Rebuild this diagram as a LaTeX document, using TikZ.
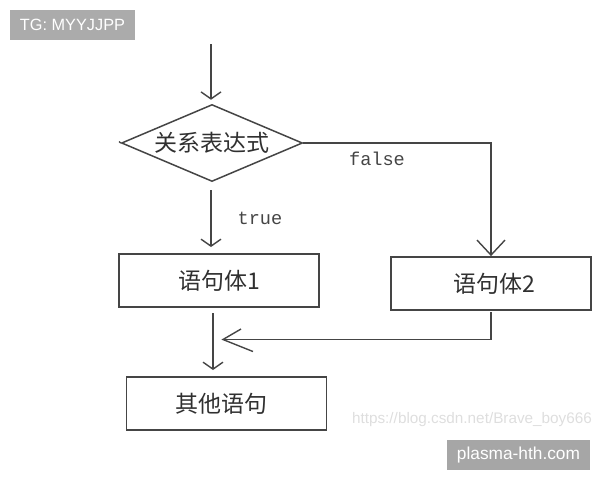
\documentclass[tikz,border=0pt]{standalone}
\usepackage{fontspec}
\setmainfont{Liberation Sans}
\newfontfamily\cjk{Noto Sans CJK SC}
\newfontfamily\monof{Liberation Mono}
\usetikzlibrary{shapes.geometric,arrows.meta}
\definecolor{ink}{HTML}{454545}
\tikzset{
  flowbox/.style={draw=ink,line width=1.8pt,minimum width=200pt,minimum height=53pt,inner sep=0pt,font=\fontsize{23}{24}\selectfont\cjk,text=ink!70!black},
  decision/.style={draw=ink,line width=1.5pt,shape=diamond,shape aspect=2.35,minimum width=181pt,minimum height=77pt,inner sep=0pt,font=\fontsize{23}{24}\selectfont\cjk,text=ink!70!black},
  flow/.style={draw=ink,line width=1.6pt},
  smallhead/.style={-{Straight Barb[length=7pt,width=20pt,line width=1.4pt]}},
  bighead/.style={-{Straight Barb[length=15pt,width=28pt,line width=1.4pt]}},
  barb/.style={draw=ink,line width=1.4pt},
  branchlabel/.style={font=\fontsize{18.6}{20}\selectfont\monof,text=ink,inner sep=0pt},
  stamp/.style={text=white,inner sep=0pt},
}
\begin{document}
\begin{tikzpicture}[x=1pt,y=-1pt]
\useasboundingbox (0,0) rectangle (600,480);
\node[stamp,fill=black!33,minimum width=125pt,minimum height=30pt,font=\fontsize{16.3}{20}\selectfont] (tg) at (72.5,25) {TG: MYYJJPP};
\node[stamp,fill=black!35,minimum width=143pt,minimum height=30pt,font=\fontsize{17.3}{20}\selectfont] (site) at (518.5,455) {plasma-hth.com};
\node[font=\fontsize{15.3}{18}\selectfont,text=black!13,inner sep=0pt] (mark) at (472,419.5) {https://blog.csdn.net/Brave\_boy666};

\node[decision] (cond) at (212,143) {关系表达式};
\node[flowbox] (s1) at (219,280.5) {语句体1};
\node[flowbox] (s2) at (491,283.5) {\hspace{6pt}语句体2};
\node[flowbox] (other) at (226.5,403.5) {其他语句\kern10pt};
\node[branchlabel] (tlabel) at (260,218) {true};
\node[branchlabel] (flabel) at (377,158.5) {false};

\coordinate (start) at (211,44);
\coordinate (tstart) at (211,190);
\coordinate (tend) at (211,247);
\coordinate (s1out) at (213,313);
\coordinate (s1end) at (213,370);
\coordinate (s2out) at (491,312);
\coordinate (joint) at (491,339.5);
\coordinate (jend) at (223,339.5);
\coordinate (wingup) at (241,329);
\coordinate (wingdown) at (253,351.5);
\coordinate (tick) at (119,141.5);

\draw[flow,smallhead,shorten >=4pt] (start) -- (cond.north -| start);
\draw[flow,smallhead] (tstart) -- (tend);
\draw[flow,bighead] (cond.east) -- (cond.east -| s2.north) -- (s2.north);
\draw[flow,smallhead] (s1out) -- (s1end);
\draw[flow] (s2out) -- (joint) -- (jend);
\draw[barb] (wingup) -- (jend) -- (wingdown);
\draw[draw=ink,line width=1.3pt] (tick) -- (cond.west);
\end{tikzpicture}
\end{document}
